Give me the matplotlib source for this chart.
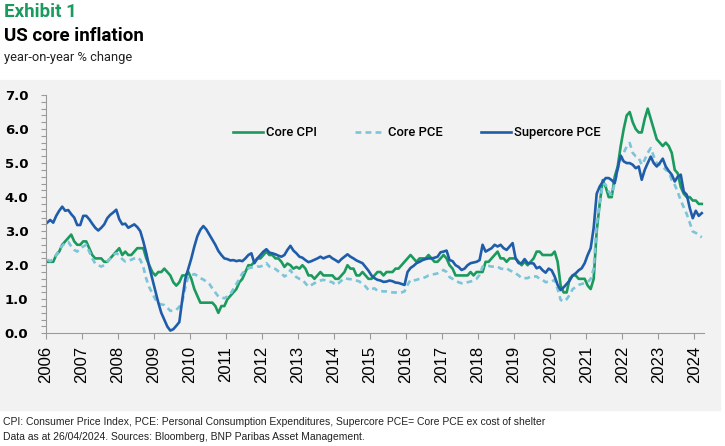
import numpy as np
import matplotlib
matplotlib.use("Agg")
import matplotlib.pyplot as plt
from matplotlib import font_manager
from matplotlib.patches import Rectangle

# monthly data, Jan 2006 .. Mar 2024 (year-on-year % change)
core_cpi = [
    2.1, 2.1, 2.1, 2.3, 2.4, 2.6, 2.7, 2.8, 2.9, 2.7, 2.6, 2.6,   # 2006
    2.7, 2.7, 2.5, 2.3, 2.2, 2.2, 2.2, 2.1, 2.1, 2.2, 2.3, 2.4,   # 2007
    2.5, 2.3, 2.4, 2.3, 2.3, 2.4, 2.5, 2.5, 2.5, 2.2, 2.0, 1.8,   # 2008
    1.7, 1.8, 1.8, 1.9, 1.8, 1.7, 1.5, 1.4, 1.5, 1.7, 1.7, 1.8,   # 2009
    1.6, 1.3, 1.1, 0.9, 0.9, 0.9, 0.9, 0.9, 0.8, 0.6, 0.8, 0.8,   # 2010
    1.0, 1.1, 1.2, 1.3, 1.5, 1.6, 1.8, 2.0, 2.0, 2.1, 2.2, 2.2,   # 2011
    2.3, 2.4, 2.3, 2.3, 2.2, 2.2, 2.1, 1.95, 2.05, 2.0, 1.9, 1.95,  # 2012
    1.9, 2.0, 1.9, 1.7, 1.7, 1.6, 1.7, 1.8, 1.7, 1.7, 1.7, 1.7,   # 2013
    1.6, 1.6, 1.7, 1.8, 2.0, 1.9, 1.9, 1.7, 1.7, 1.8, 1.7, 1.6,   # 2014
    1.6, 1.7, 1.8, 1.8, 1.7, 1.8, 1.8, 1.8, 1.9, 1.9, 2.0, 2.1,   # 2015
    2.2, 2.3, 2.2, 2.1, 2.2, 2.2, 2.2, 2.3, 2.2, 2.1, 2.1, 2.2,   # 2016
    2.3, 2.2, 2.0, 1.9, 1.7, 1.7, 1.7, 1.7, 1.7, 1.8, 1.7, 1.8,   # 2017
    1.8, 1.8, 2.1, 2.1, 2.2, 2.3, 2.4, 2.2, 2.2, 2.1, 2.2, 2.2,   # 2018
    2.2, 2.1, 2.0, 2.1, 2.0, 2.1, 2.2, 2.4, 2.4, 2.3, 2.3, 2.3,   # 2019
    2.3, 2.4, 2.1, 1.4, 1.2, 1.2, 1.6, 1.7, 1.7, 1.6, 1.6, 1.6,   # 2020
    1.4, 1.3, 1.6, 3.0, 3.8, 4.5, 4.3, 4.0, 4.0, 4.6, 4.9, 5.5,   # 2021
    6.0, 6.4, 6.5, 6.2, 6.0, 5.9, 5.9, 6.3, 6.6, 6.3, 6.0, 5.7,   # 2022
    5.6, 5.5, 5.6, 5.5, 5.3, 4.8, 4.7, 4.3, 4.1, 4.0, 4.0, 3.9,   # 2023
    3.9, 3.8, 3.8,                                                # 2024
]

core_pce = [
    2.16, 2.12, 2.18, 2.3, 2.45, 2.57, 2.65, 2.69, 2.55, 2.45, 2.4, 2.5,
    2.55, 2.6, 2.4, 2.2, 2.05, 2.0, 1.96, 2.0, 2.11, 2.2, 2.3, 2.35,
    2.3, 2.18, 2.11, 2.14, 2.16, 2.2, 2.23, 2.16, 1.95, 1.6, 1.35, 1.18,
    1.0, 0.88, 0.85, 0.83, 0.75, 0.66, 0.66, 0.69, 0.78, 0.93, 1.35, 1.67,
    1.7, 1.74, 1.69, 1.62, 1.58, 1.52, 1.45, 1.32, 1.2, 1.08, 1.05, 1.03,
    1.08, 1.15, 1.3, 1.45, 1.6, 1.76, 1.85, 1.91, 1.93, 1.93, 1.96, 1.96,
    2.0, 2.06, 1.96, 1.92, 1.89, 1.82, 1.76, 1.67, 1.72, 1.86, 1.72, 1.65,
    1.6, 1.57, 1.47, 1.37, 1.42, 1.47, 1.52, 1.55, 1.57, 1.55, 1.52, 1.5,
    1.42, 1.47, 1.55, 1.62, 1.6, 1.59, 1.57, 1.55, 1.52, 1.45, 1.38, 1.27,
    1.3, 1.32, 1.25, 1.24, 1.23, 1.23, 1.22, 1.2, 1.2, 1.18, 1.2, 1.23,
    1.42, 1.57, 1.55, 1.57, 1.6, 1.62, 1.65, 1.7, 1.72, 1.74, 1.76, 1.8,
    1.86, 1.8, 1.65, 1.6, 1.55, 1.5, 1.47, 1.47, 1.5, 1.52, 1.55, 1.6,
    1.72, 1.96, 1.98, 1.98, 1.96, 1.96, 1.96, 1.9, 1.89, 1.91, 1.85, 1.81,
    1.76, 1.7, 1.62, 1.62, 1.62, 1.67, 1.67, 1.67, 1.6, 1.57, 1.5, 1.52,
    1.52, 1.57, 1.3, 0.98, 0.93, 1.0, 1.13, 1.3, 1.35, 1.42, 1.45, 1.47,
    1.5, 1.6, 1.9, 3.2, 3.8, 4.41, 4.36, 4.16, 4.07, 4.4, 4.8, 5.1,
    5.3, 5.49, 5.59, 5.3, 5.2, 5.15, 4.95, 5.1, 5.3, 5.44, 5.2, 5.0,
    4.95, 4.9, 4.8, 4.75, 4.5, 4.36, 4.15, 3.9, 3.7, 3.5, 3.25, 2.99,
    2.95, 2.88, 2.82,
]

supercore_pce = [
    3.25, 3.33, 3.25, 3.45, 3.6, 3.72, 3.6, 3.62, 3.5, 3.4, 3.18, 3.18,
    3.45, 3.45, 3.35, 3.22, 3.1, 3.02, 3.1, 3.2, 3.38, 3.48, 3.55, 3.63,
    3.35, 3.2, 3.22, 3.1, 3.15, 3.2, 3.12, 3.0, 2.7, 2.35, 1.95, 1.6,
    1.25, 0.9, 0.6, 0.4, 0.2, 0.08, 0.12, 0.22, 0.33, 1.0, 1.6, 1.9,
    2.2, 2.55, 2.85, 3.04, 3.15, 3.05, 2.9, 2.75, 2.6, 2.42, 2.3, 2.2,
    2.18, 2.14, 2.15, 2.12, 2.14, 2.12, 2.2, 2.3, 2.35, 2.06, 2.2, 2.3,
    2.4, 2.47, 2.37, 2.35, 2.32, 2.28, 2.25, 2.3, 2.45, 2.57, 2.43, 2.35,
    2.25, 2.22, 2.15, 2.09, 2.12, 2.16, 2.2, 2.25, 2.2, 2.24, 2.27, 2.2,
    2.15, 2.09, 2.18, 2.25, 2.32, 2.25, 2.2, 2.14, 2.1, 2.06, 1.95, 1.84,
    1.7, 1.62, 1.57, 1.55, 1.51, 1.52, 1.55, 1.53, 1.49, 1.48, 1.45, 1.42,
    1.8, 1.92, 1.98, 2.06, 2.1, 2.15, 2.18, 2.2, 2.2, 2.22, 2.25, 2.38,
    2.4, 2.43, 2.15, 2.12, 2.0, 1.95, 1.86, 1.9, 2.0, 2.06, 2.08, 2.1,
    2.15, 2.6, 2.4, 2.45, 2.5, 2.6, 2.55, 2.6, 2.5, 2.45, 2.55, 2.65,
    2.2, 2.06, 2.06, 2.18, 2.06, 2.06, 2.05, 1.91, 1.95, 1.85, 1.78, 1.9,
    1.85, 1.67, 1.42, 1.27, 1.35, 1.45, 1.55, 1.7, 1.76, 1.85, 1.91, 2.06,
    2.3, 2.5, 3.1, 4.1, 4.31, 4.45, 4.56, 4.56, 4.5, 4.41, 4.85, 5.22,
    5.05, 5.0, 5.0, 4.95, 4.85, 4.9, 4.51, 4.8, 5.0, 5.19, 5.0, 4.9,
    5.0, 5.13, 4.9, 4.77, 4.66, 4.46, 4.6, 4.66, 4.16, 4.07, 3.68, 3.38,
    3.6, 3.45, 3.53,
]

years = list(range(2006, 2025))
series_names = ["Core CPI", "Core PCE", "Supercore PCE"]

# month positions as decimal years (mid-month)
t = 2006 + (np.arange(len(core_cpi)) + 0.5) / 12

green = "#1b9a5e"
light_blue = "#7cc4d8"
dark_blue = "#1f5dab"
grey_bg = "#f2f2f2"
spine_col = "#9a9a9a"

names = [f.name for f in font_manager.fontManager.ttflist]
foot_font = "Liberation Sans Narrow" if "Liberation Sans Narrow" in names else "Liberation Sans"
foot_size = 8.3 if foot_font == "Liberation Sans Narrow" else 7.5

W, H = 725, 446
fig = plt.figure(figsize=(W / 100, H / 100), dpi=100)

# grey panel behind the chart
fig.patches.append(Rectangle((0, 1 - 410 / H), 720 / W, 330 / H,
                             transform=fig.transFigure, color=grey_bg, zorder=-10))

ax = fig.add_axes([45.7 / W, 1 - 333.3 / H, (704 - 45.7) / W, (333.3 - 95) / H])
ax.set_zorder(5)
ax.set_facecolor("none")

ax.plot(t, core_cpi, color=green, lw=1.9, label=series_names[0], solid_joinstyle="round")
ax.plot(t, core_pce, color=light_blue, lw=1.9, ls=(0, (2.2, 1.6)), label=series_names[1])
ax.plot(t, supercore_pce, color=dark_blue, lw=1.9, label=series_names[2], solid_joinstyle="round")

ax.set_xlim(2006, 2024.27)
ax.set_ylim(0, 7)

ax.set_xticks(years)
ax.set_xticklabels([str(y) for y in years], rotation=90, fontsize=12,
                   family="Liberation Sans")
ax.set_yticks(np.arange(0, 7.1, 1.0))
ax.set_yticklabels([f"{v:.1f}" for v in np.arange(0, 7.1, 1.0)], fontsize=9.5,
                   fontweight="bold", family="DejaVu Sans")
ax.set_yticks(np.arange(0, 7.01, 0.2), minor=True)

ax.tick_params(axis="x", direction="out", length=4, width=0.8, color=spine_col, pad=5)
ax.tick_params(axis="y", which="both", direction="out", length=3.5, width=0.8,
               color=spine_col, pad=9)

for side in ["top", "right"]:
    ax.spines[side].set_visible(False)
for side in ["left", "bottom"]:
    ax.spines[side].set_color(spine_col)
    ax.spines[side].set_linewidth(0.8)

leg = ax.legend(loc="center left", bbox_to_anchor=((233 - 45.7) / (704 - 45.7), 0.8406),
                ncol=3, frameon=False, handlelength=2.3, handletextpad=0.25,
                columnspacing=2.9, borderpad=0, borderaxespad=0,
                prop={"family": "Roboto", "weight": "medium", "size": 9.4})

# titles
fig.text(4 / W, 1 - 12 / H, "Exhibit 1", color=green, fontsize=13.5,
         fontweight="bold", family="Roboto", va="center", ha="left")
fig.text(4 / W, 1 - 36 / H, "US core inflation", color="black", fontsize=13.5,
         fontweight="bold", family="Roboto", va="center", ha="left")
fig.text(4 / W, 1 - 57 / H, "year-on-year % change", color="#222222", fontsize=9.3,
         family="Roboto", va="center", ha="left")

# footnotes
fig.text(3 / W, 1 - 422 / H,
         "CPI: Consumer Price Index, PCE: Personal Consumption Expenditures, "
         "Supercore PCE= Core PCE ex cost of shelter",
         fontsize=foot_size, family=foot_font, color="#222222", va="center", ha="left")
fig.text(3 / W, 1 - 437 / H,
         "Data as at 26/04/2024. Sources: Bloomberg, BNP Paribas Asset Management.",
         fontsize=foot_size, family=foot_font, color="#222222", va="center", ha="left")

fig.savefig("out.png", dpi=100, facecolor="white")
